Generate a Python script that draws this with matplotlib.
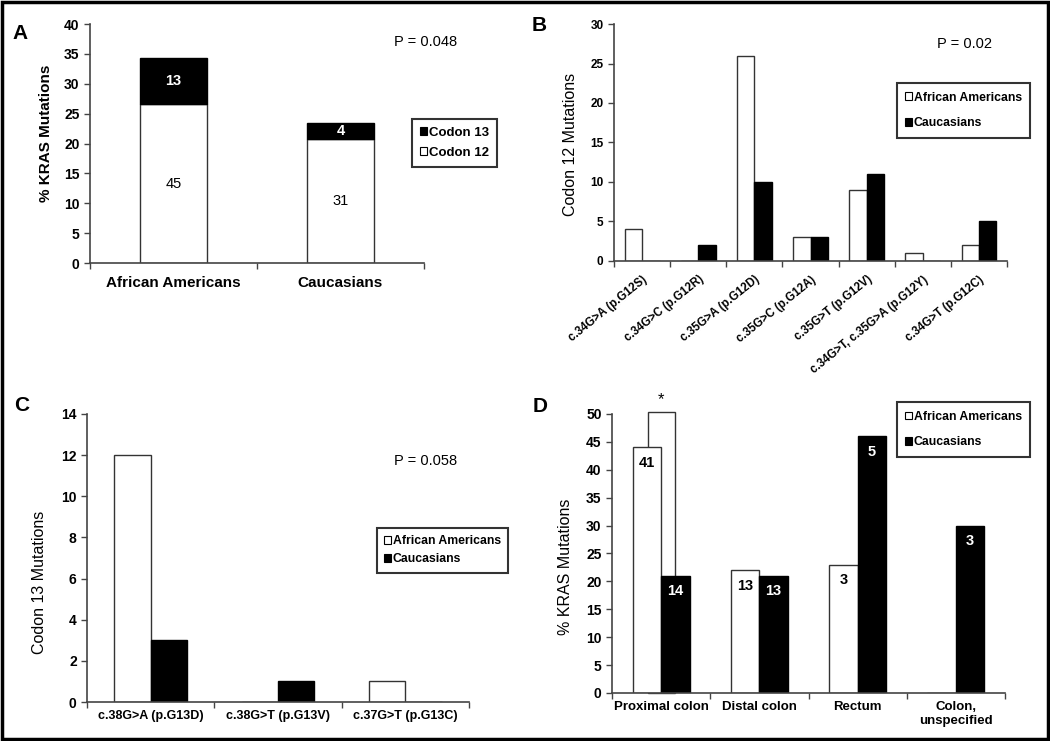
import matplotlib
matplotlib.use("Agg")
import matplotlib.pyplot as plt
import numpy as np
from matplotlib.patches import Patch, Rectangle

plt.rcParams['font.family'] = ['Liberation Sans', 'DejaVu Sans']

# ---------------- data ----------------
# Panel A
a_groups = ["African Americans", "Caucasians"]
a_codon12 = [26.6, 20.8]
a_codon13 = [7.8, 2.7]
a_codon12_n = ["45", "31"]
a_codon13_n = ["13", "4"]

# Panel B
b_labels = ["c.34G>A (p.G12S)", "c.34G>C (p.G12R)", "c.35G>A (p.G12D)",
            "c.35G>C (p.G12A)", "c.35G>T (p.G12V)", "c.34G>T, c.35G>A (p.G12Y)",
            "c.34G>T (p.G12C)"]
b_aa = [4, 0, 26, 3, 9, 1, 2]
b_ca = [0, 2, 10, 3, 11, 0, 5]

# Panel C
c_labels = ["c.38G>A (p.G13D)", "c.38G>T (p.G13V)", "c.37G>T (p.G13C)"]
c_aa = [12, 0, 1]
c_ca = [3, 1, 0]

# Panel D
d_labels = ["Proximal colon", "Distal colon", "Rectum", "Colon,\nunspecified"]
d_aa = [44, 22, 23, 0]
d_ca = [21, 21, 46, 30]
d_aa_n = ["41", "13", "3", ""]
d_ca_n = ["14", "13", "5", "3"]
d_extra = [50.3]  # stray white bar behind proximal colon

fig = plt.figure(figsize=(10.5, 7.41), dpi=100)
fig.patch.set_facecolor("white")


def style_axes(ax, n, ylim, yticks, tsize):
    for s in ['top', 'right']:
        ax.spines[s].set_visible(False)
    for s in ['left', 'bottom']:
        ax.spines[s].set_color('#444444')
        ax.spines[s].set_linewidth(1.2)
    ax.set_xlim(-0.5, n - 0.5)
    ax.set_ylim(*ylim)
    ax.set_yticks(yticks)
    ax.set_yticklabels([str(t) for t in yticks], fontsize=tsize, fontweight='bold')
    ax.set_xticks(np.arange(n + 1) - 0.5)
    ax.set_xticklabels([])
    ax.tick_params(axis='both', direction='out', length=4, color='#444444', width=1)
    ax.set_xticks(np.arange(n), minor=True)
    ax.tick_params(axis='x', which='minor', length=0)


def legend(ax, handles, labels, anchor, size=8.8, spacing=0.6, pad=0.7):
    lg = ax.legend(handles, labels, loc='upper left', bbox_to_anchor=anchor,
                   bbox_transform=fig.transFigure, frameon=True, fancybox=False,
                   edgecolor='black', handlelength=0.55, handleheight=0.6,
                   handletextpad=0.15, labelspacing=spacing, borderpad=pad,
                   borderaxespad=0, prop=dict(size=size, weight='bold'))
    lg.get_frame().set_linewidth(1.5)
    return lg


def ylabel(ax, text, cx, cy, size, weight='normal'):
    ax.set_ylabel(text, fontsize=size, fontweight=weight, va='center')
    ax.yaxis.set_label_coords(cx, cy)


white_h = Patch(facecolor='white', edgecolor='black', linewidth=0.8)
black_h = Patch(facecolor='black', edgecolor='black', linewidth=0.8)

# ---------------- Panel A ----------------
axA = fig.add_axes([0.0857, 0.645, 0.318, 0.3225])
style_axes(axA, 2, (0, 40), list(range(0, 41, 5)), 10)
x = np.arange(len(a_groups))
b12 = axA.bar(x, a_codon12, 0.4, color='white', edgecolor='#333333', linewidth=1)
b13 = axA.bar(x, a_codon13, 0.4, bottom=a_codon12, color='black', edgecolor='black', linewidth=1)
axA.bar_label(b12, labels=a_codon12_n, label_type='center', fontsize=10.5, color='black')
axA.bar_label(b13, labels=a_codon13_n, label_type='center', fontsize=10.5, color='white', fontweight='bold')
axA.set_xticklabels(a_groups, minor=True, fontsize=11, fontweight='bold')
axA.tick_params(axis='x', which='minor', pad=9)
ylabel(axA, "% KRAS Mutations", -0.132, 0.544, 11, 'bold')
axA.text(0.405, 0.943, "P = 0.048", transform=fig.transFigure, fontsize=10.5, ha='center', va='center')
legend(axA, [black_h, white_h], ["Codon 13", "Codon 12"], (0.392, 0.8394), size=9.5, spacing=0.6, pad=0.6)

# ---------------- Panel B ----------------
axB = fig.add_axes([0.5848, 0.6478, 0.3743, 0.3198])
style_axes(axB, 7, (0, 30), list(range(0, 31, 5)), 8.5)
xb = np.arange(len(b_labels))
wb = 0.31
axB.bar(xb - wb / 2, b_aa, wb, color='white', edgecolor='#333333', linewidth=1)
axB.bar(xb + wb / 2, b_ca, wb, color='black', edgecolor='black', linewidth=1)
axB.set_xticklabels(b_labels, minor=True, fontsize=8.3, fontweight='bold', rotation=39,
                    ha='right', rotation_mode='anchor')
axB.tick_params(axis='x', which='minor', pad=9)
ylabel(axB, "Codon 12 Mutations", -0.112, 0.49, 11.5)
axB.text(0.919, 0.94, "P = 0.02", transform=fig.transFigure, fontsize=10.5, ha='center', va='center')
legend(axB, [white_h, black_h], ["African Americans", "Caucasians"], (0.854, 0.888), spacing=1.1)

# ---------------- Panel C ----------------
axC = fig.add_axes([0.0829, 0.0526, 0.3638, 0.3887])
style_axes(axC, 3, (0, 14), list(range(0, 15, 2)), 10)
xc = np.arange(len(c_labels))
wc = 0.285
axC.bar(xc - wc / 2, c_aa, wc, color='white', edgecolor='#333333', linewidth=1)
axC.bar(xc + wc / 2, c_ca, wc, color='black', edgecolor='black', linewidth=1)
axC.set_xticklabels(c_labels, minor=True, fontsize=9, fontweight='bold')
axC.tick_params(axis='x', which='minor', pad=6)
ylabel(axC, "Codon 13 Mutations", -0.125, 0.417, 11.5)
axC.text(0.405, 0.378, "P = 0.058", transform=fig.transFigure, fontsize=10.5, ha='center', va='center')
legend(axC, [white_h, black_h], ["African Americans", "Caucasians"], (0.359, 0.2875), spacing=0.5, pad=0.6)

# ---------------- Panel D ----------------
axD = fig.add_axes([0.5829, 0.0648, 0.3743, 0.3765])
style_axes(axD, 4, (0, 50), list(range(0, 51, 5)), 10)
xd = np.arange(len(d_labels))
wd = 0.29
axD.bar(xd[:1], d_extra, wd * 0.95, color='white', edgecolor='#333333', linewidth=1, zorder=1, clip_on=False)
axD.bar(xd - wd / 2, d_aa, wd, color='white', edgecolor='#333333', linewidth=1, zorder=2)
axD.bar(xd + wd / 2, d_ca, wd, color='black', edgecolor='black', linewidth=1, zorder=2)
for i in range(len(d_labels)):
    if d_aa_n[i]:
        axD.text(xd[i] - wd / 2, d_aa[i] - 2.8, d_aa_n[i], ha='center', va='center',
                 fontsize=10.5, fontweight='bold', color='black', zorder=3)
    if d_ca_n[i]:
        axD.text(xd[i] + wd / 2, d_ca[i] - 2.8, d_ca_n[i], ha='center', va='center',
                 fontsize=10.5, fontweight='bold', color='white', zorder=3)
axD.text(xd[0], d_extra[0] + 1.0, "*", ha='center', va='bottom', fontsize=12, clip_on=False)
axD.set_xticklabels(d_labels, minor=True, fontsize=9.5, fontweight='bold', va='top')
axD.tick_params(axis='x', which='minor', pad=6)
ylabel(axD, "% KRAS Mutations", -0.118, 0.452, 11.5)
legend(axD, [white_h, black_h], ["African Americans", "Caucasians"], (0.854, 0.457), spacing=1.1)

# panel letters
for lbl, (px, py) in {"A": (0.012, 0.955), "B": (0.506, 0.965), "C": (0.013, 0.453), "D": (0.507, 0.451)}.items():
    fig.text(px, py, lbl, fontsize=15, fontweight='bold', ha='left', va='center')

# outer frame
fig.add_artist(Rectangle((0.002, 0.003), 0.996, 0.994, transform=fig.transFigure,
                         fill=False, edgecolor='black', linewidth=2.5))

fig.savefig("out.png", dpi=100, facecolor='white')
